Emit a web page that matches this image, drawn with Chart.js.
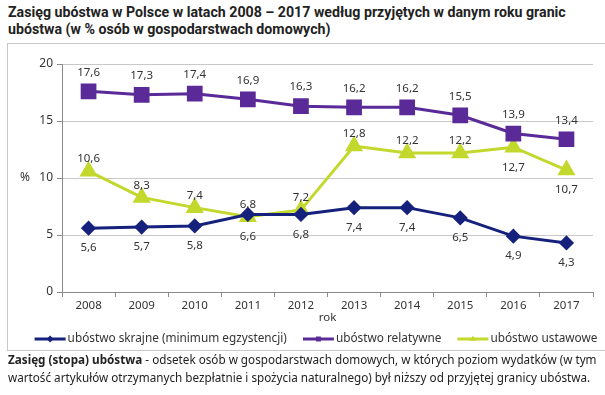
<!DOCTYPE html>
<html>
<head>
<meta charset="utf-8">
<script src="https://cdn.jsdelivr.net/npm/chart.js@4"></script>
<style>
body{margin:0;width:605px;height:395px;overflow:hidden;background:#fff;position:relative;font-family:"Noto Sans",sans-serif;}
#title{position:absolute;left:8px;top:4px;font-family:Roboto,sans-serif;font-weight:bold;font-size:14.2px;line-height:17px;color:#222;}
#frame{position:absolute;left:7px;top:43px;width:620px;height:306px;border:1px solid #c8c8c8;}
#chart{position:absolute;left:0;top:0;}
#caption{position:absolute;left:8px;top:350px;font-size:11.7px;line-height:18px;color:#222;white-space:nowrap;}
</style>
</head>
<body>
<div id="title">Zasięg ubóstwa w Polsce w latach 2008 – 2017 według przyjętych w danym roku granic<br>ubóstwa (w % osób w gospodarstwach domowych)</div>
<div id="frame"></div>
<canvas id="chart" width="605" height="395"></canvas>
<div id="caption"><b>Zasięg (stopa) ubóstwa</b> - odsetek osób w gospodarstwach domowych, w których poziom wydatków (w tym<br>wartość artykułów otrzymanych bezpłatnie i spożycia naturalnego) był niższy od przyjętej granicy ubóstwa.</div>
<script>
const years = ["2008","2009","2010","2011","2012","2013","2014","2015","2016","2017"];
const skrajne = [5.6,5.7,5.8,6.8,6.8,7.4,7.4,6.5,4.9,4.3];
const relatywne = [17.6,17.3,17.4,16.9,16.3,16.2,16.2,15.5,13.9,13.4];
const ustawowe = [10.6,8.3,7.4,6.6,7.2,12.8,12.2,12.2,12.7,10.7];
const yTicks = [0,5,10,15,20];

// where the value label sits for each point
const sideSkrajne = ["b","b","b","a","b","b","b","b","b","b"];
const sideRelatywne = ["a","a","a","a","a","a","a","a","a","a"];
const sideUstawowe = ["a","a","a","b","a","a","a","a","b","b"];

const navy = "#15217c", purple = "#5a2b98", lime = "#c3d82c";

const valueLabels = {
id:"valueLabels",
afterDatasetsDraw(chart){
const ctx = chart.ctx;
ctx.save();
ctx.font = "11.5px 'Noto Sans'";
ctx.fillStyle = "#333";
ctx.textAlign = "center";
ctx.textBaseline = "middle";
chart.data.datasets.forEach((ds,i)=>{
const meta = chart.getDatasetMeta(i);
meta.data.forEach((pt,j)=>{
const up = ds.sides[j] === "a";
const dy = up ? -ds.upGap : 20;
ctx.fillText(String(ds.data[j]).replace(".",","), pt.x, pt.y + dy);
});
});
ctx.restore();
}
};

const extras = {
id:"extras",
afterDraw(chart){
const ctx = chart.ctx;
const y = chart.scales.y;
const area = chart.chartArea;
ctx.save();
ctx.font = "12px 'Noto Sans'";
ctx.fillStyle = "#333";
ctx.textAlign = "center";
ctx.textBaseline = "middle";
ctx.fillText("%", 25, y.getPixelForValue(10));
ctx.font = "11.5px 'Noto Sans'";
ctx.fillText("rok", (area.left+area.right)/2, area.bottom + 26);

// legend
ctx.font = "11.8px 'Noto Sans'";
ctx.textAlign = "left";
const ly = 339, lineLen = 31, gap = 2, itemGap = 16;
const items = chart.data.datasets;
const widths = items.map(d => lineLen + gap + ctx.measureText(d.label).width);
const total = widths.reduce((a,b)=>a+b,0) + itemGap*(items.length-1);
let x = 316 - total/2;
items.forEach((d,i)=>{
ctx.strokeStyle = d.borderColor;
ctx.lineWidth = 3;
ctx.beginPath();
ctx.moveTo(x, ly);
ctx.lineTo(x+lineLen, ly);
ctx.stroke();
ctx.fillStyle = d.borderColor;
Chart.helpers.drawPoint(ctx, {pointStyle:d.pointStyle, radius:3.5, rotation:0}, x+lineLen/2, ly);
ctx.fillStyle = "#333";
ctx.fillText(d.label, x+lineLen+gap, ly);
x += widths[i] + itemGap;
});
ctx.restore();
}
};

new Chart(document.getElementById("chart"),{
type:"line",
data:{
labels:years,
datasets:[
{label:"ubóstwo skrajne (minimum egzystencji)", data:skrajne, sides:sideSkrajne, upGap:10,
borderColor:navy, backgroundColor:navy, pointStyle:"rectRot", pointRadius:5.5, borderWidth:3},
{label:"ubóstwo relatywne", data:relatywne, sides:sideRelatywne, upGap:19,
borderColor:purple, backgroundColor:purple, pointStyle:"rect", pointRadius:9, borderWidth:3},
{label:"ubóstwo ustawowe", data:ustawowe, sides:sideUstawowe, upGap:12,
borderColor:lime, backgroundColor:lime, pointStyle:"triangle", pointRadius:7.5, borderWidth:3}
]
},
options:{
responsive:false,
animation:false,
layout:{padding:{left:0,right:8,top:64,bottom:0}},
elements:{line:{tension:0}, point:{borderWidth:0, hoverRadius:7}},
plugins:{legend:{display:false}, tooltip:{enabled:false}},
scales:{
y:{
min:0, max:20,
afterFit(s){ s.width = 62; },
afterBuildTicks(s){ s.ticks = yTicks.map(v=>({value:v})); },
ticks:{font:{family:"Noto Sans",size:12}, color:"#333", padding:4},
grid:{color:"#c9c9c9", tickColor:"#8a8a8a", tickLength:5},
border:{color:"#8a8a8a"}
},
x:{
offset:true,
afterFit(s){ s.height = 103; },
ticks:{font:{family:"Noto Sans",size:11.5}, color:"#333", padding:2, maxRotation:0},
grid:{offset:true, drawOnChartArea:false, tickColor:"#8a8a8a", tickLength:5},
border:{color:"#8a8a8a"}
}
}
},
plugins:[valueLabels, extras]
});
</script>
</body>
</html>
